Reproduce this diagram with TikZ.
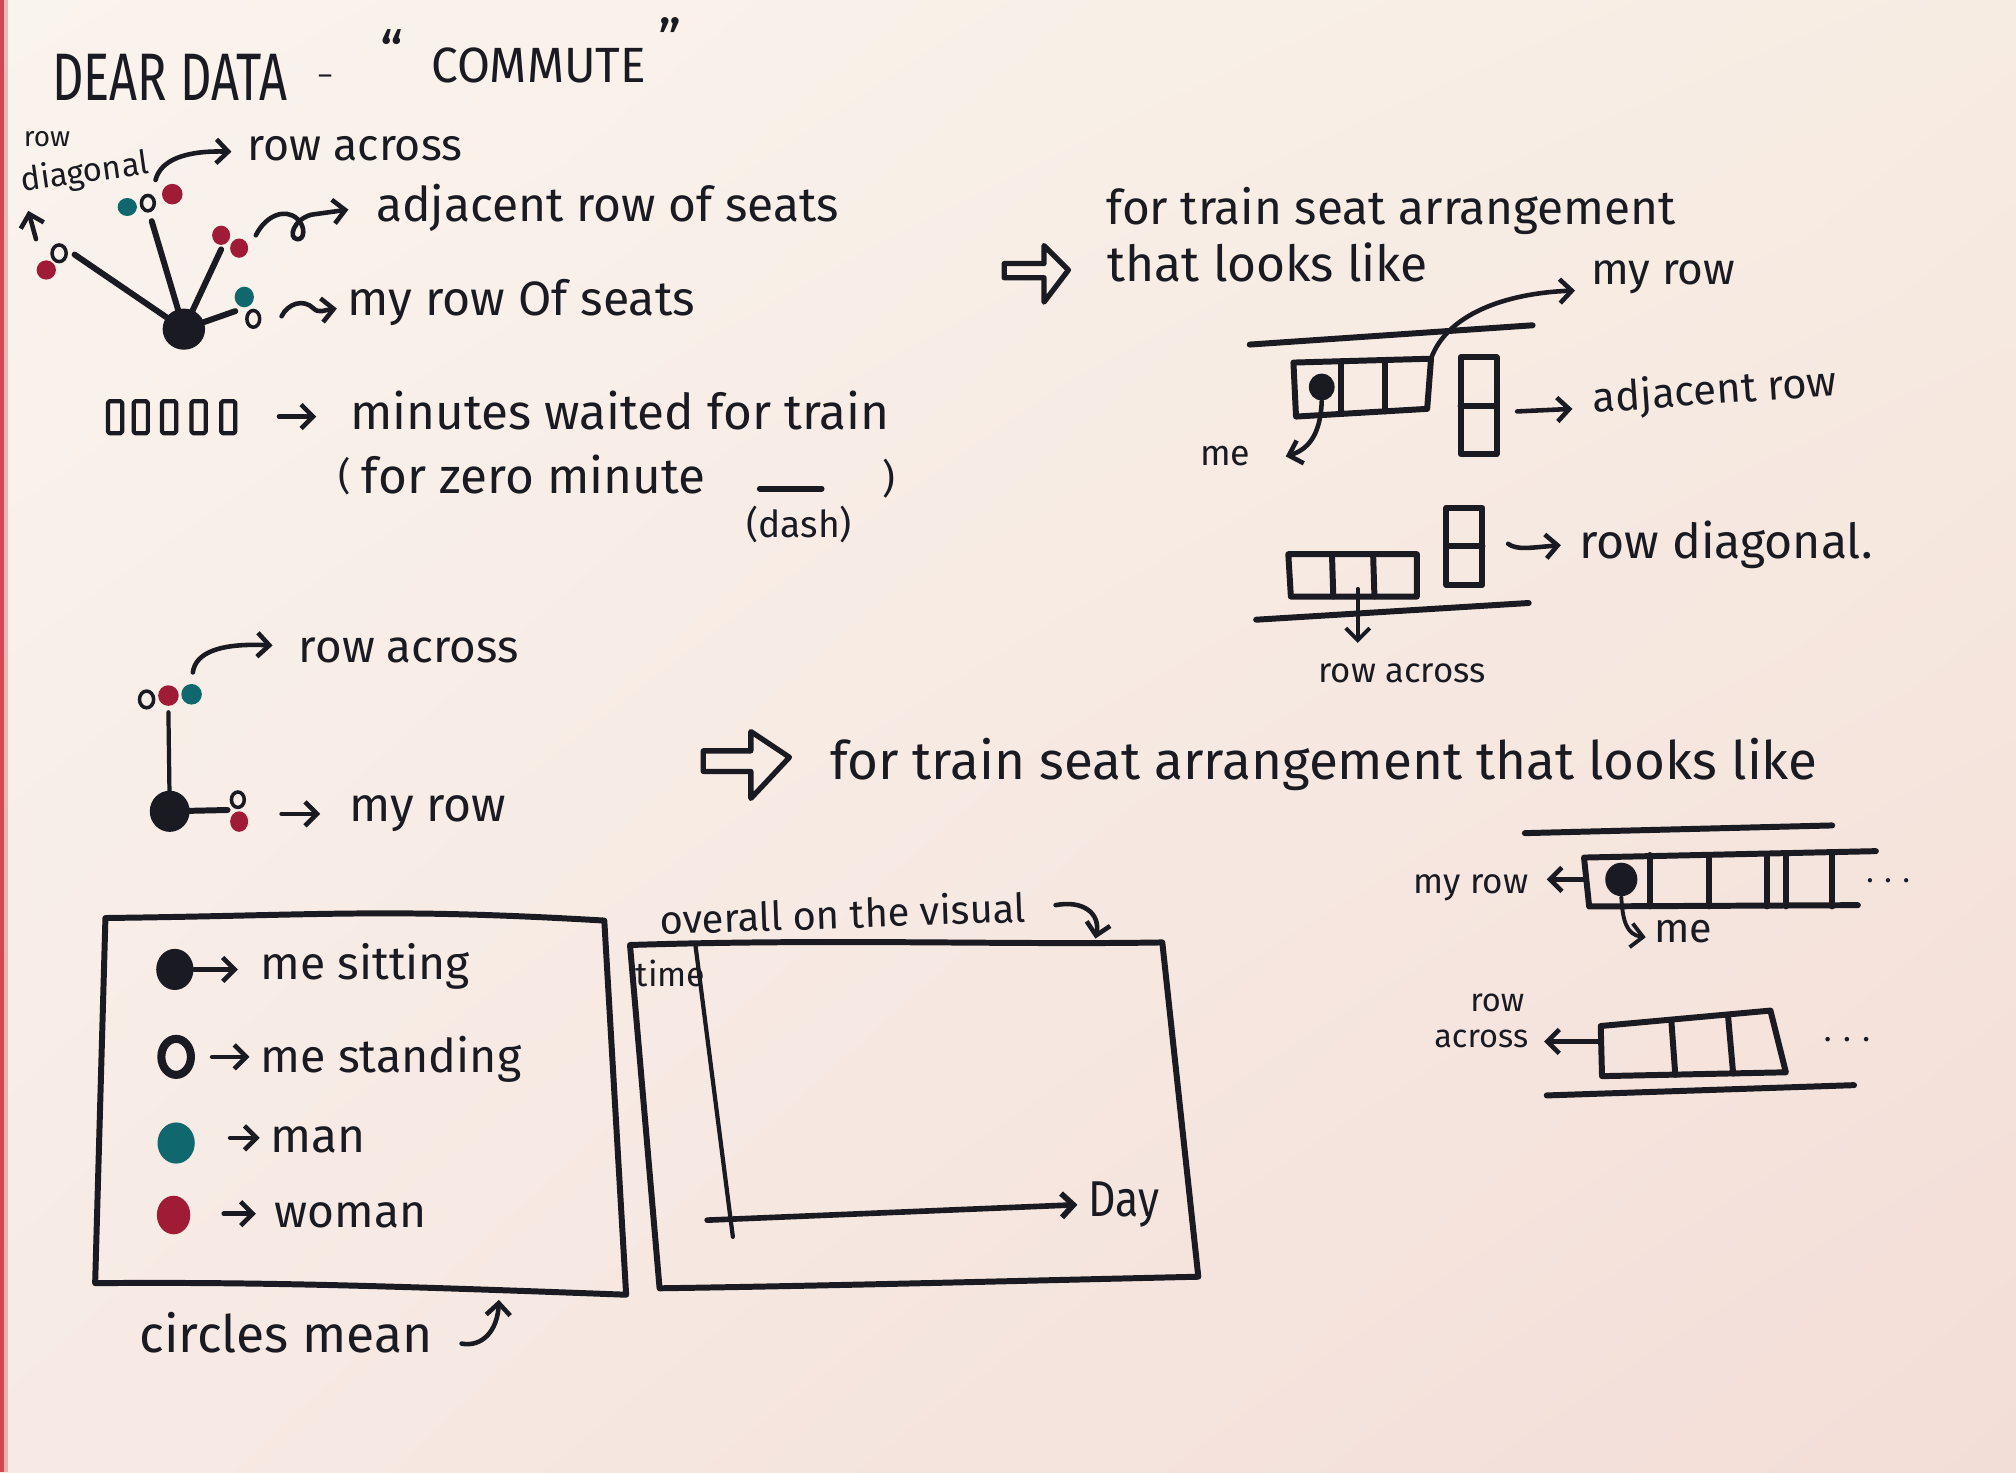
\documentclass[tikz,border=0pt]{standalone}
\usepackage{fontspec}
\setmainfont{Fira Sans}
\usepackage{graphicx}
\usetikzlibrary{arrows.meta,shapes.geometric,shadings}

\definecolor{ink}{RGB}{26,26,34}
\definecolor{tealink}{RGB}{16,104,110}
\definecolor{redink}{RGB}{160,28,54}
\definecolor{paperA}{RGB}{250,244,238}
\definecolor{paperB}{RGB}{247,236,226}
\definecolor{paperC}{RGB}{247,234,228}
\definecolor{paperD}{RGB}{243,221,215}
\definecolor{edgered}{RGB}{214,70,80}

% one unit of the sheet grid
\newlength\pu
\setlength\pu{0.12857mm}
\newcommand\hw[2]{\resizebox{#1\pu}{!}{#2}}
\newcommand\hwh[3]{\resizebox{#1\pu}{#2\pu}{#3}}
\newcommand\hh[2]{\resizebox{!}{#1\pu}{#2}}

\tikzset{
  txt/.style={inner sep=0pt, anchor=base west, text=ink},
  pen/.style={draw=ink, line width=1.7pt, line cap=round, line join=round},
  fine pen/.style={draw=ink, line width=1.2pt, line cap=round, line join=round},
  harrow/.style={draw=ink, line width=1.3pt, line cap=round,
    -{Straight Barb[length=3.4pt,width=6.8pt]}},
  dot/.style 2 args={ellipse, inner sep=0pt, minimum width=#1*\pu, minimum height=#2*\pu},
  blob/.style={fill=ink},
  tealdot/.style={fill=tealink},
  reddot/.style={fill=redink},
  ring/.style={draw=ink, line width=1.0pt},
  hollow arrow/.style={draw=ink, line width=1.5pt, line join=round},
}

\begin{document}
\begin{tikzpicture}[x=0.12857mm, y=-0.12857mm]
\useasboundingbox (0,0) rectangle (1568,1145);
\shade[upper left=paperA, upper right=paperB, lower left=paperC, lower right=paperD]
  (0,0) rectangle (1568,1145);
\fill[edgered] (0,0) rectangle (3,1145);
\fill[edgered, opacity=0.35] (3,0) rectangle (6,1145);

% ---------- title ----------
\node[txt] (dear) at (40,78) {\hwh{183}{36}{DEAR DATA}};
\node[txt, anchor=center] (titledash) at (253,62) {\hw{11}{–}};
\node[txt, anchor=center] (openq) at (305,40) {\hw{18}{“}};
\node[txt] (commute) at (335,64) {\hwh{167}{27}{COMMUTE}};
\node[txt, anchor=center] (closeq) at (521,30) {\hw{18}{”}};

% ---------- first key glyph ----------
\node[txt] (rowlbl) at (18,114) {\hw{36}{row}};
\node[txt, rotate=8] (diaglbl) at (17,149) {\hw{100}{diagonal}};
\node[txt] (across1) at (192,125) {\hw{167}{row across}};
\node[txt] (adj1) at (292,172) {\hw{360}{adjacent row of seats}};
\node[txt] (myrow1) at (270,245) {\hw{270}{my row Of seats}};

\node[blob, dot={33}{32}] (hub1) at (143,256) {};
\coordinate (l1) at (58,198);
\coordinate (l2) at (118,172);
\coordinate (l3) at (172,194);
\coordinate (l4) at (183,242);
\draw[pen] (hub1.center) -- (l1);
\draw[pen] (hub1.center) -- (l2);
\draw[pen] (hub1.center) -- (l3);
\draw[pen] (hub1.center) -- (l4);

\node[ring, dot={11}{13}] (r1) at (46,197) {};
\node[reddot, dot={15}{15}] (w1) at (36,210) {};
\node[tealdot, dot={15}{14}] (m1) at (99,161) {};
\node[ring, dot={10}{12}] (r2) at (115,158) {};
\node[reddot, dot={16}{16}] (w2) at (134,151) {};
\node[reddot, dot={14}{15}] (w3) at (172,183) {};
\node[reddot, dot={14}{15}] (w4) at (186,193) {};
\node[tealdot, dot={15}{16}] (m2) at (190,231) {};
\node[ring, dot={10}{13}] (r3) at (197,248) {};

\coordinate (ud0) at (28,186);
\coordinate (ud1) at (22,164);
\draw[harrow] (ud0) -- (ud1);
\coordinate (ac0) at (121,140);
\coordinate (ac1) at (180,118);
\draw[harrow] (ac0) .. controls (125,124) and (145,117) .. (ac1);
\coordinate (aj0) at (199,183);
\coordinate (aj1) at (271,163);
\draw[harrow] (aj0) .. controls (207,167) and (222,162) .. (231,170)
  .. controls (238,176) and (237,187) .. (231,186)
  .. controls (224,185) and (228,171) .. (242,167) -- (aj1);
\coordinate (mr0) at (219,246);
\coordinate (mr1) at (262,240);
\draw[harrow] (mr0) .. controls (224,236) and (236,232) .. (244,240)
  .. controls (248,244) and (253,241) .. (mr1);

% ---------- waiting time key ----------
\foreach \bx in {84,104,126,149,172}
  \draw[fine pen, rounded corners=0.5pt] (\bx,312) rectangle ++(11,25);
\coordinate (mw0) at (217,324);
\node[txt] (minutes) at (272,334) {\hw{419}{minutes waited for train}};
\draw[harrow] (mw0) -- (246,324);
\node[txt] (lparen) at (263,381) {\hh{25}{(}};
\node[txt] (zero) at (281,384) {\hw{267}{for zero minute}};
\draw[pen] (591,380) -- (639,380);
\node[txt] (rparen) at (686,383) {\hh{26}{)}};
\node[txt] (dashlbl) at (580,418) {\hw{82}{(dash)}};

% ---------- first seat layout ----------
\draw[hollow arrow] (781,205) -- (812,205) -- (812,191) -- (831,210)
  -- (812,235) -- (812,216) -- (781,216) -- cycle;
\node[txt] (for1) at (860,175) {\hw{443}{for train seat arrangement}};
\node[txt] (that1) at (861,219) {\hw{249}{that looks like}};
\node[txt] (myrow2) at (1237,221) {\hw{112}{my row}};

\draw[pen] (972,268) -- (1192,253);
\draw[pen] (1006,282) -- (1113,279) -- (1110,318) -- (1008,324) -- cycle;
\draw[pen] (1043,281) -- (1043,322);
\draw[pen] (1077,280) -- (1077,320);
\node[blob, dot={20}{21}] (me1dot) at (1028,301) {};
\coordinate (mrow0) at (1113,279);
\coordinate (mrow1) at (1225,226);
\draw[harrow] (mrow0) .. controls (1125,245) and (1170,228) .. (mrow1);
\node[txt] (me1) at (933,362) {\hw{39}{me}};
\coordinate (me1tip) at (1000,355);
\draw[harrow] (me1dot.south) .. controls (1027,340) and (1016,350) .. (me1tip);

\draw[pen] (1136,278) rectangle (1164,353);
\draw[pen] (1136,316) -- (1164,316);
\coordinate (ad0) at (1180,320);
\draw[harrow] (ad0) -- (1223,318);
\node[txt, rotate=4] (adj2) at (1239,321) {\hw{190}{adjacent row}};

\draw[pen] (1125,395) rectangle (1153,455);
\draw[pen] (1125,425) -- (1153,425);
\coordinate (dg0) at (1173,423);
\draw[harrow] (dg0) .. controls (1180,428) and (1190,426) .. (1214,424);
\node[txt] (diag2) at (1228,434) {\hw{228}{row diagonal.}};
\draw[pen] (1002,431) -- (1102,431) -- (1102,464) -- (1004,464) -- cycle;
\draw[pen] (1036,432) -- (1037,464);
\draw[pen] (1068,432) -- (1069,464);
\draw[pen] (977,482) -- (1189,469);
\coordinate (ra0) at (1056,458);
\draw[harrow, line width=1.1pt] (ra0) -- (1056,500);
\node[txt] (across2) at (1025,531) {\hw{130}{row across}};

% ---------- second key glyph ----------
\node[txt] (across3) at (232,515) {\hw{171}{row across}};
\node[txt] (myrow3) at (271,639) {\hw{122}{my row}};
\node[blob, dot={31}{32}] (hub2) at (132,631) {};
\coordinate (v1) at (131,554);
\coordinate (h1) at (177,630);
\draw[fine pen] (hub2.center) -- (v1);
\draw[pen] (hub2.center) -- (h1);
\node[ring, dot={11}{13}] (r4) at (114,544) {};
\node[reddot, dot={16}{16}] (w5) at (131,541) {};
\node[tealdot, dot={16}{16}] (m3) at (149,540) {};
\node[ring, dot={10}{12}] (r5) at (185,622) {};
\node[reddot, dot={14}{16}] (w6) at (186,639) {};
\coordinate (ra1) at (150,523);
\draw[harrow] (ra1) .. controls (152,508) and (170,500) .. (212,502);
\coordinate (mr2) at (219,633);
\draw[harrow] (mr2) -- (249,633);

% ---------- second seat layout ----------
\draw[hollow arrow] (547,584) -- (584,584) -- (584,569) -- (614,589)
  -- (584,621) -- (584,600) -- (547,600) -- cycle;
\node[txt] (for2) at (645,606) {\hw{768}{for train seat arrangement that looks like}};

\draw[pen] (1186,648) -- (1425,642);
\draw[pen] (1459,662) -- (1232,667) -- (1236,705) -- (1445,704);
\foreach \vx in {1283,1329,1374,1389,1425}
  \draw[pen] (\vx,665) -- (\vx,705);
\node[blob, dot={25}{26}] (me2dot) at (1261,684) {};
\node[txt] (myrow4) at (1099,695) {\hw{89}{my row}};
\coordinate (ml0) at (1232,684);
\draw[harrow] (ml0) -- (1203,684);
\node[txt] (me2) at (1286,733) {\hw{45}{me}};
\coordinate (me2tip) at (1280,729);
\draw[harrow, line width=1.1pt] (me2dot.south) .. controls (1262,716) and (1265,727) .. (me2tip);
\node[txt] (dots1) at (1451,686) {\hw{34}{. . .}};

\node[txt] (row5) at (1143,787) {\hw{42}{row}};
\node[txt] (across5) at (1115,815) {\hw{73}{across}};
\coordinate (al0) at (1245,810);
\draw[harrow] (al0) -- (1201,810);
\draw[pen] (1245,798) -- (1377,786) -- (1389,834) -- (1246,837) -- cycle;
\draw[pen] (1300,795) -- (1303,836);
\draw[pen] (1344,790) -- (1348,835);
\node[txt] (dots2) at (1418,810) {\hw{36}{. . .}};
\draw[pen] (1203,852) -- (1442,844);

% ---------- legend ----------
\draw[pen] (82,714) .. controls (250,712) and (300,706) .. (470,716)
  -- (487,1007) .. controls (300,1000) and (200,997) .. (74,998) -- cycle;
\node[blob, dot={29}{32}] (ksit) at (136,754) {};
\node[txt] (sit) at (202,762) {\hw{163}{me sitting}};
\draw[harrow] (ksit.east) -- (185,754);
\node[ring, line width=2.3pt, dot={23}{28}] (kstand) at (137,822) {};
\node[txt] (stand) at (202,834) {\hw{203}{me standing}};
\coordinate (ks0) at (165,822);
\draw[harrow] (ks0) -- (194,822);
\node[tealdot, dot={29}{32}] (kman) at (137,889) {};
\node[txt] (man) at (210,896) {\hw{74}{man}};
\coordinate (km0) at (179,885);
\draw[harrow] (km0) -- (202,885);
\node[reddot, dot={26}{30}] (kwoman) at (135,945) {};
\node[txt] (woman) at (213,955) {\hw{118}{woman}};
\coordinate (kw0) at (174,944);
\draw[harrow] (kw0) -- (199,944);
\node[txt] (circ) at (108,1052) {\hw{228}{circles mean}};
\coordinate (cm0) at (359,1045);
\coordinate (cm1) at (388,1011);
\draw[harrow] (cm0) .. controls (375,1048) and (387,1035) .. (cm1);

% ---------- overall chart ----------
\node[txt, rotate=2] (overall) at (513,727) {\hw{285}{overall on the visual}};
\coordinate (ov0) at (821,704);
\coordinate (ov1) at (852,730);
\draw[harrow] (ov0) .. controls (842,700) and (856,710) .. (ov1);
\draw[pen] (490,735) .. controls (650,730) and (780,735) .. (904,733)
  -- (932,993) .. controls (800,996) and (650,1000) .. (513,1002) -- cycle;
\coordinate (yax0) at (541,736);
\coordinate (yax1) at (570,962);
\draw[fine pen] (yax0) -- (yax1);
\coordinate (xax0) at (550,949);
\coordinate (xax1) at (838,937);
\draw[harrow, line width=1.6pt] (xax0) -- (xax1);
\node[txt] (time) at (494,767) {\hw{54}{time}};
\node[txt] (day) at (846,946) {\hwh{55}{27}{Day}};
\end{tikzpicture}
\end{document}
